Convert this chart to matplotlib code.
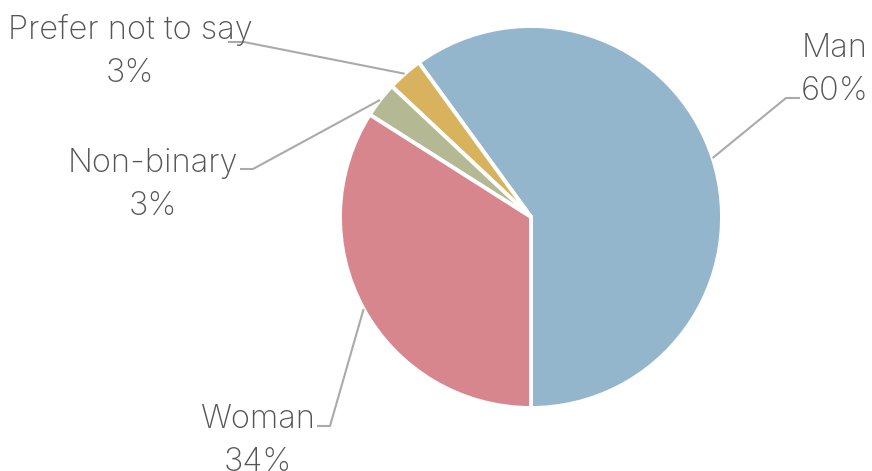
import matplotlib
matplotlib.use("Agg")
import matplotlib.pyplot as plt
import numpy as np

categories = ["Man", "Prefer not to say", "Non-binary", "Woman"]
values = [60, 3, 3, 34]
pct_labels = ["60%", "3%", "3%", "34%"]
colors = ["#93B6CD", "#D9B25D", "#B4B993", "#D8868E"]

W, H = 872, 471
fig = plt.figure(figsize=(W / 100, H / 100), dpi=100)
ax = fig.add_axes([0, 0, 1, 1])
ax.set_xlim(0, W)
ax.set_ylim(0, H)
ax.set_aspect("equal")
ax.axis("off")

cx, cy, R = 531, H - 217, 191
wedges, _ = ax.pie(values, colors=colors, startangle=-90, counterclock=True,
                   center=(cx, cy), radius=R,
                   wedgeprops=dict(edgecolor="white", linewidth=2.8))
ax.set_xlim(0, W)
ax.set_ylim(0, H)

# layout of labels (pixel coords, y from top): elbow, end, text center x, first baseline
layout = {
    "Man": ((786, 98), (800, 98), 835, 57),
    "Prefer not to say": ((244, 42), (228, 42), 130, 39),
    "Non-binary": ((253, 169), (240, 169), 153, 172),
    "Woman": ((330, 426), (317, 426), 258, 428),
}

font = dict(family=["Inter", "DejaVu Sans"], weight="light", size=23.5, color="#555555")
for w, cat, pl in zip(wedges, categories, pct_labels):
    ang = np.deg2rad((w.theta1 + w.theta2) / 2)
    ax0 = cx + R * np.cos(ang)
    ay0 = cy + R * np.sin(ang)
    (ex, ey), (fx, fy), tx, tb = layout[cat]
    ax.plot([ax0, ex, fx], [ay0, H - ey, H - fy], color="#AAAAAA", lw=1.5,
            solid_capstyle="butt", zorder=1)
    ax.text(tx, H - tb, cat, ha="center", va="baseline", **font)
    ax.text(tx, H - tb - 43, pl, ha="center", va="baseline", **font)

fig.savefig("out.png", dpi=100, facecolor="white")
